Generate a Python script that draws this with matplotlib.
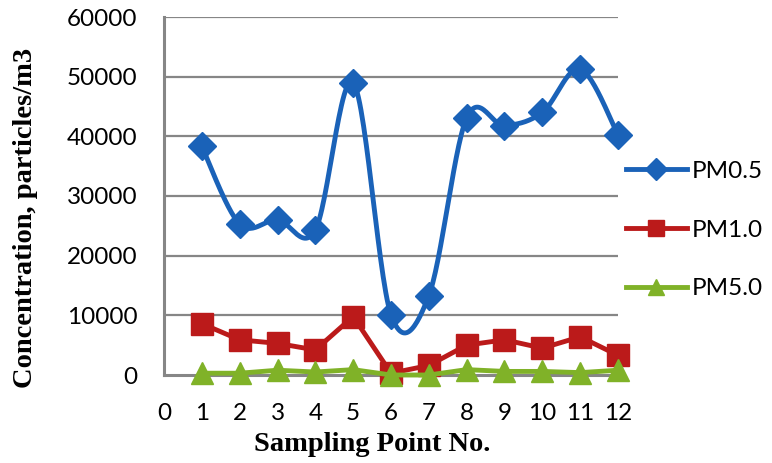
import numpy as np
import matplotlib
matplotlib.use("Agg")
import matplotlib.pyplot as plt

# data
points = [1, 2, 3, 4, 5, 6, 7, 8, 9, 10, 11, 12]
pm05 = [38300, 25300, 26000, 24300, 49000, 10100, 13300, 43100, 41800, 44000, 51300, 40300]
pm10 = [8600, 5900, 5300, 4200, 9800, 300, 1600, 5000, 5900, 4500, 6400, 3300]
pm50 = [300, 300, 800, 500, 900, 0, 0, 900, 600, 600, 400, 800]
x_ticks = list(range(0, 13))
y_ticks = [0, 10000, 20000, 30000, 40000, 50000, 60000]


def excel_smooth(x, y, n=30):
    # bezier smoothing like Excel's "smoothed line"
    x = np.asarray(x, float)
    y = np.asarray(y, float)
    px = np.concatenate([[x[0]], x, [x[-1]]])
    py = np.concatenate([[y[0]], y, [y[-1]]])
    xs, ys = [], []
    t = np.linspace(0, 1, n)
    for i in range(1, len(px) - 2):
        p0 = np.array([px[i], py[i]])
        p3 = np.array([px[i + 1], py[i + 1]])
        p1 = p0 + (p3 - np.array([px[i - 1], py[i - 1]])) / 6
        p2 = p3 - (np.array([px[i + 2], py[i + 2]]) - p0) / 6
        for tt in t:
            b = ((1 - tt) ** 3) * p0 + 3 * ((1 - tt) ** 2) * tt * p1 + 3 * (1 - tt) * tt ** 2 * p2 + tt ** 3 * p3
            xs.append(b[0])
            ys.append(b[1])
    return xs, ys


blue = "#1a62b8"
red = "#bb1a1a"
green = "#80b228"
grey = "#868686"

fig = plt.figure(figsize=(7.72, 4.63), dpi=100)
ax = fig.add_axes([164 / 772, 1 - 375 / 463, 454 / 772, 358 / 463])

for yv in y_ticks[1:]:
    ax.axhline(yv, color=grey, lw=1.6, zorder=1)

sx, sy = excel_smooth(points, pm05)
ax.plot(sx, sy, color=blue, lw=3.5, zorder=3, clip_on=False)
ax.plot(points, pm05, ls="none", marker="D", ms=14.5, color=blue, zorder=4, clip_on=False)
ax.plot(points, pm10, color=red, lw=3.5, marker="s", ms=16, zorder=5, clip_on=False)
ax.plot(points, pm50, color=green, lw=3.5, marker="^", ms=15.5, zorder=6, clip_on=False)

ax.set_xlim(0, 12)
ax.set_ylim(0, 60000)
for s in ["top", "right"]:
    ax.spines[s].set_visible(False)
for s in ["left", "bottom"]:
    ax.spines[s].set_color(grey)
    ax.spines[s].set_linewidth(2.2)

ax.set_xticks(x_ticks)
ax.set_yticks(y_ticks)
ax.tick_params(length=0)
ax.tick_params(axis="y", pad=19)
ax.tick_params(axis="x", pad=20)
for lab in ax.get_xticklabels() + ax.get_yticklabels():
    lab.set_fontfamily("Lato")
    lab.set_fontsize(17.5)

ax.set_xlabel("Sampling Point No.", fontsize=20.5, fontweight="bold", family="Liberation Serif", va="center")
ax.xaxis.set_label_coords(0.458, -0.1955)
ax.set_ylabel("Concentration, particles/m3", fontsize=20.5, fontweight="bold", family="Liberation Serif", va="center")
ax.yaxis.set_label_coords(-0.306, 0.4385)

h1 = plt.Line2D([], [], color=blue, lw=3.5, marker="D", ms=11)
h2 = plt.Line2D([], [], color=red, lw=3.5, marker="s", ms=12)
h3 = plt.Line2D([], [], color=green, lw=3.5, marker="^", ms=12)
fig.legend([h1, h2, h3], ["PM0.5", "PM1.0", "PM5.0"], loc="center left",
           bbox_to_anchor=(626 / 772, 1 - 230 / 463), frameon=False,
           prop={"family": "Lato", "size": 17.5}, handlelength=2.5,
           handletextpad=0.2, labelspacing=1.56, borderpad=0, borderaxespad=0)

fig.savefig("out.png", dpi=100)
